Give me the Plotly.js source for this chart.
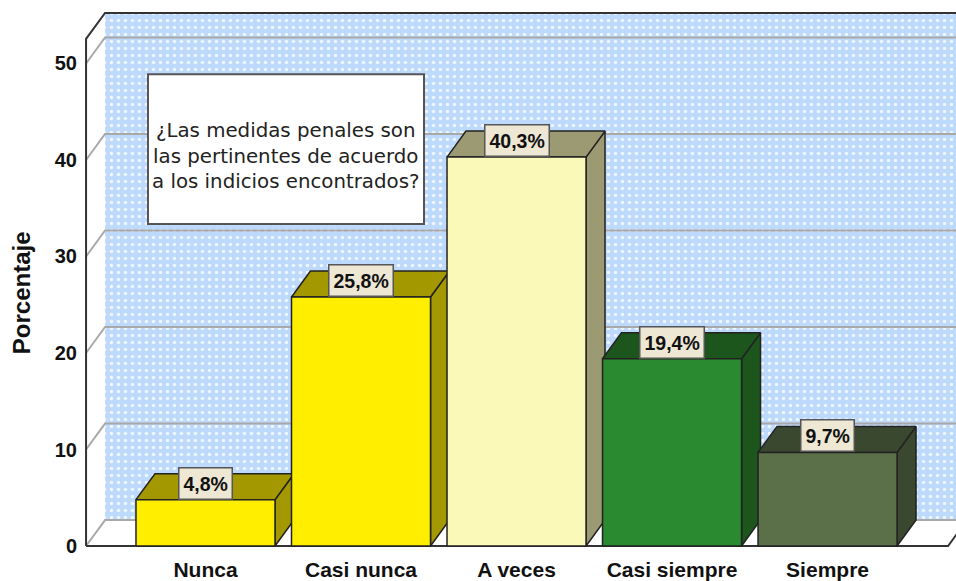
<!DOCTYPE html>
<html>
<head>
<meta charset="utf-8">
<script src="https://cdn.plot.ly/plotly-3.0.1.min.js"></script>
<style>html,body{margin:0;padding:0;background:#fff;}#chart{width:956px;height:581px;}</style>
</head>
<body>
<div id="chart"></div>
<script>
// ---- data ----
const categories = ['Nunca', 'Casi nunca', 'A veces', 'Casi siempre', 'Siempre'];
const values = [4.8, 25.8, 40.3, 19.4, 9.7];
const valueLabels = ['4,8%', '25,8%', '40,3%', '19,4%', '9,7%'];
const frontColors = ['#FFEE00', '#FFEE00', '#FAF9B8', '#298A2F', '#5B7049'];
const shadeColors = ['#A39800', '#A39800', '#9C9A72', '#1C561C', '#3B4830'];
const yTicks = [0, 10, 20, 30, 40, 50];
const chartTitle = '¿Las medidas penales son<br>las pertinentes de acuerdo<br>a los indicios encontrados?';
const yTitle = 'Porcentaje';

// ---- 3D geometry (in axis units) ----
const DX = 0.122, DY = 2.69, HW = 0.447;
const XL = -0.768, XR = 4.775, YT = 52.54, XFAR = 6;
const EDGE = '#222222';
const BOLD_NARROW = '"Liberation Sans Narrow", "Arial Narrow", "Liberation Sans", Arial, sans-serif';

const traces = [];
// back wall
traces.push({
  type: 'scatter', mode: 'lines', x: [XL + DX, XFAR, XFAR, XL + DX], y: [DY, DY, YT + DY, YT + DY],
  fill: 'toself', fillcolor: '#BDD9FC',
  fillpattern: {shape: '.', bgcolor: '#BDD9FC', fgcolor: 'rgba(255,255,255,0.75)', size: 7, solidity: 0.2},
  line: {width: 0}, hoverinfo: 'skip'
});
// grid lines (side wall diagonals + back wall horizontals)
const gx = [], gy = [];
yTicks.forEach(t => { gx.push(XL, XL + DX, XFAR, null); gy.push(t, t + DY, t + DY, null); });
traces.push({type: 'scatter', mode: 'lines', x: gx, y: gy, line: {color: '#A9A9A9', width: 2}, hoverinfo: 'skip'});
// floor right edge + front floor line
traces.push({type: 'scatter', mode: 'lines', x: [XL, XR, XR + DX], y: [0, 0, DY], line: {color: '#333333', width: 2}, hoverinfo: 'skip'});
// left axis and top edge
traces.push({type: 'scatter', mode: 'lines', x: [XL, XL, XL + DX, XFAR], y: [0, YT, YT + DY, YT + DY], line: {color: '#333333', width: 2}, hoverinfo: 'skip'});

// bars
values.forEach((v, i) => {
  const l = i - HW, r = i + HW;
  // side face
  traces.push({type: 'scatter', mode: 'lines', x: [r, r + DX, r + DX, r, r], y: [0, DY, v + DY, v, 0],
    fill: 'toself', fillcolor: shadeColors[i], line: {color: EDGE, width: 1.5}, hoverinfo: 'skip'});
  // top face
  traces.push({type: 'scatter', mode: 'lines', x: [l, l + DX, r + DX, r, l], y: [v, v + DY, v + DY, v, v],
    fill: 'toself', fillcolor: shadeColors[i], line: {color: EDGE, width: 1.5}, hoverinfo: 'skip'});
  // front face
  traces.push({type: 'scatter', mode: 'lines', x: [l, r, r, l, l], y: [0, 0, v, v, 0],
    fill: 'toself', fillcolor: frontColors[i], line: {color: EDGE, width: 1.5}, hoverinfo: 'skip'});
});

const annotations = values.map((v, i) => ({
  x: i, y: v, xref: 'x', yref: 'y', xanchor: 'center', yanchor: 'bottom', showarrow: false,
  text: '<b>' + valueLabels[i] + '</b>',
  font: {family: BOLD_NARROW, size: 19.5, color: '#111111'},
  bgcolor: '#EDE7D4', bordercolor: '#555555', borderwidth: 1.5, borderpad: 4
}));
annotations.push({
  xref: 'paper', yref: 'paper', x: 0.2346, y: 0.73, xanchor: 'center', yanchor: 'middle', showarrow: false,
  text: chartTitle, align: 'center',
  font: {family: '"DejaVu Sans", Verdana, sans-serif', size: 19.8, color: '#222222'}
});
annotations.push({
  xref: 'paper', yref: 'paper', x: -0.066, y: 0.475, xanchor: 'center', yanchor: 'middle', showarrow: false,
  text: '<b>' + yTitle + '</b>', textangle: -90,
  font: {family: '"Liberation Sans", Arial, sans-serif', size: 24, color: '#111111'}
});

const layout = {
  width: 956, height: 581,
  margin: {l: 80, r: 0, t: 10, b: 32, pad: 0},
  paper_bgcolor: '#FFFFFF', plot_bgcolor: 'rgba(0,0,0,0)',
  showlegend: false, hovermode: false,
  xaxis: {
    range: [-0.807, 4.826], showgrid: false, zeroline: false, showline: false,
    tickmode: 'array', tickvals: categories.map((c, i) => i), ticktext: categories.map(c => '<b>' + c + '</b>'),
    ticks: '', ticklabelstandoff: 6,
    tickfont: {family: '"Liberation Sans", Arial, sans-serif', size: 21, color: '#111111'}, fixedrange: true
  },
  yaxis: {
    range: [-0.31, 55.54], showgrid: false, zeroline: false, showline: false,
    tickmode: 'array', tickvals: yTicks, ticktext: yTicks.map(t => '<b>' + t + '</b>'),
    ticks: '', ticklabelstandoff: 2,
    tickfont: {family: BOLD_NARROW, size: 20, color: '#111111'}, fixedrange: true
  },
  shapes: [{
    type: 'rect', xref: 'paper', yref: 'paper', x0: 0.0776, x1: 0.3927, y0: 0.603, y1: 0.881,
    fillcolor: '#FFFFFF', line: {color: '#555555', width: 2}, layer: 'above'
  }],
  annotations: annotations
};

Plotly.newPlot('chart', traces, layout, {displayModeBar: false, staticPlot: true});
</script>
</body>
</html>
